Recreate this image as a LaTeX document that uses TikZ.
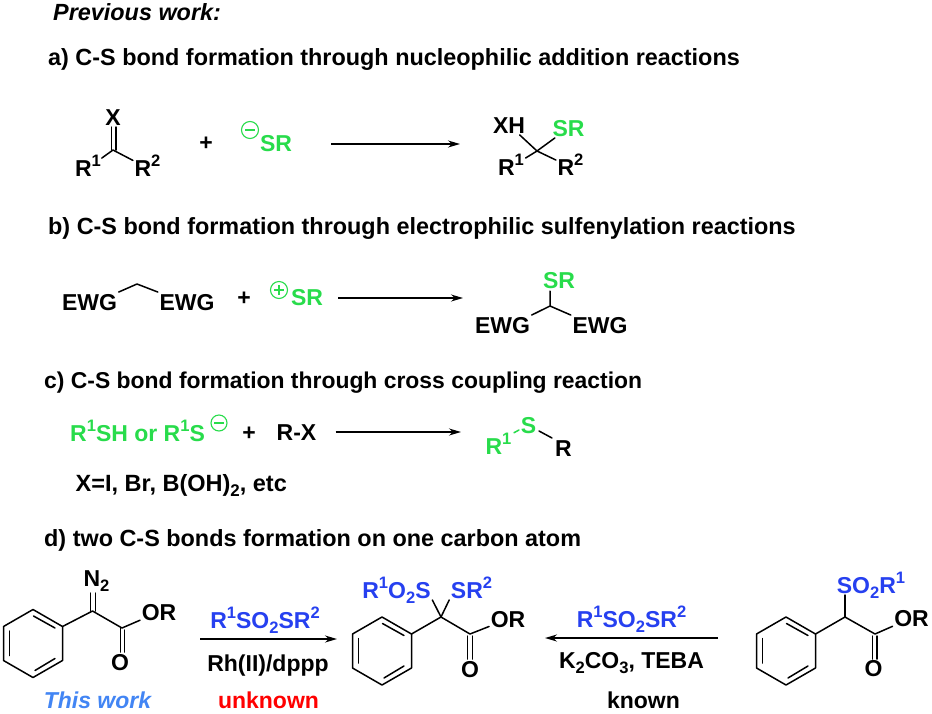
\documentclass[tikz,border=0pt]{standalone}
\usepackage{fontspec}
\setmainfont{Liberation Sans}
\usetikzlibrary{arrows.meta,calc}
\definecolor{grn}{RGB}{40,220,75}
\definecolor{blu}{RGB}{38,64,240}
\definecolor{lblu}{RGB}{66,133,244}
\newcommand\sps[1]{\raisebox{.42em}{\scalebox{.72}{#1}}}
\newcommand\sbs[1]{\raisebox{-.22em}{\scalebox{.72}{#1}}}
\tikzset{
  x=1pt,y=-1pt,
  head/.style={font=\fontsize{23.4}{26}\selectfont\bfseries,anchor=west,inner sep=0pt,text height=16.5pt,text depth=0pt},
  lbl/.style={font=\fontsize{23}{26}\selectfont\bfseries,inner sep=1.5pt,text height=16.5pt,text depth=0pt},
  bond/.style={line width=1.5pt,line cap=round,line join=round},
  rxn/.style={line width=1.5pt,-{Stealth[length=12pt,width=7pt]}},
  chg/.style={circle,draw=grn,line width=1.1pt,inner sep=0pt},
  gs/.style={text=grn},
  bs/.style={text=blu}
}
\newcommand\phring[3]{% name, cx, cy
  \coordinate (#1a) at (#2,#3-34);
  \coordinate (#1b) at (#2+29.5,#3-17);
  \coordinate (#1c) at (#2+29.5,#3+17);
  \coordinate (#1d) at (#2,#3+34);
  \coordinate (#1e) at (#2-29.5,#3+17);
  \coordinate (#1f) at (#2-29.5,#3-17);
  \draw[bond] (#1a)--(#1b)--(#1c)--(#1d)--(#1e)--(#1f)--cycle;
  \draw[bond] (#2+0.5,#3-27.5)--(#2+22,#3-15.5);
  \draw[bond] (#2+2,#3+27)--(#2+22,#3+15);
  \draw[bond] (#2-23.5,#3-12.5)--(#2-23.5,#3+12);
}
\begin{document}
\begin{tikzpicture}
\useasboundingbox (0,0) rectangle (932,713);
\fill[white] (0,0) rectangle (932,713);
% headings
\node[head,font=\fontsize{23.4}{26}\selectfont\bfseries\itshape] (hp) at (53,12) {Previous work:};
\node[head] (ha) at (48,57) {a) C-S bond formation through nucleophilic addition reactions};
\node[head] (hb) at (48,226) {b) C-S bond formation through electrophilic sulfenylation reactions};
\node[head,font=\fontsize{22.9}{26}\selectfont\bfseries] (hc) at (44,380) {c) C-S bond formation through cross coupling reaction};
\node[head] (hd) at (44,538) {d) two C-S bonds formation on one carbon atom};

% panel a
\node[lbl] (aX) at (113,117) {X};
\node[lbl] (aR1) at (88,168) {R\sps{1}};
\node[lbl] (aR2) at (147.5,168) {R\sps{2}};
\coordinate (aC) at (113,150);
\coordinate (aXl) at (111.5,127); \coordinate (aXr) at (116,127);
\coordinate (aCl) at (111.5,150); \coordinate (aCr) at (116,150);
\draw[bond] (aXl)--(aCl) (aXr)--(aCr);
\draw[bond] (aC)--(aR1) (aC)--(aR2);
\node[lbl] (aplus) at (206,142) {+};
\node[chg,minimum size=17pt] (amin) at (250,130) {};
\draw[grn,line width=1.1pt] ($(amin)+(-5,0)$)--($(amin)+(5,0)$);
\node[lbl,gs] (aSR) at (276,143) {SR};
\coordinate (a1) at (331,144); \coordinate (a2) at (460,144);
\draw[rxn] (a1)--(a2);
\node[lbl] (pXH) at (509,125) {XH};
\node[lbl,gs] (pSR) at (568.5,128) {SR};
\node[lbl] (pR1) at (511,167) {R\sps{1}};
\node[lbl] (pR2) at (570.5,167) {R\sps{2}};
\coordinate (pC) at (537,151);
\draw[bond] (pC)--(pXH) (pC)--(pSR) (pC)--(pR1) (pC)--(pR2);

% panel b
\node[lbl] (bE1) at (89.5,302) {EWG};
\node[lbl] (bE2) at (187,302) {EWG};
\coordinate (bC) at (137,284);
\draw[bond] (bE1.north east)--(bC)--(bE2.north west);
\node[lbl] (bplus) at (244,297) {+};
\node[chg,minimum size=17pt] (bpl) at (279,290) {};
\draw[grn,line width=1.1pt] ($(bpl)+(-5,0)$)--($(bpl)+(5,0)$) ($(bpl)+(0,-5)$)--($(bpl)+(0,5)$);
\node[lbl,gs] (bSR) at (307,297) {SR};
\coordinate (b1) at (338,298); \coordinate (b2) at (463,298);
\draw[rxn] (b1)--(b2);
\node[lbl,gs] (qSR) at (559,280) {SR};
\node[lbl] (qE1) at (502.5,325) {EWG};
\node[lbl] (qE2) at (600,325) {EWG};
\coordinate (qC) at (550,306);
\coordinate (qT) at (550,291);
\draw[bond] (qC)--(qT) (qC)--(qE1.north east) (qC)--(qE2.north west);

% panel c
\node[lbl,gs,anchor=west,inner sep=0pt] (cA) at (70,433) {R\sps{1}SH or R\sps{1}S};
\node[chg,minimum size=16pt] (cmin) at (219,423) {};
\draw[grn,line width=1.1pt] ($(cmin)+(-5,0)$)--($(cmin)+(5,0)$);
\node[lbl] (cplus) at (249,432) {+};
\node[lbl] (cRX) at (296.5,432) {R-X};
\coordinate (c1) at (335.5,432); \coordinate (c2) at (461,432);
\draw[rxn] (c1)--(c2);
\node[lbl,gs] (cS) at (528.5,425) {S};
\node[lbl,gs] (cR1) at (498.5,446) {R\sps{1}};
\node[lbl] (cR) at (563.5,448) {R};
\coordinate (cb1) at (514,432.7); \coordinate (cb2) at (519,430);
\coordinate (cb3) at (539,431); \coordinate (cb4) at (552,438);
\draw[bond,grn] (cb1)--(cb2);
\draw[bond] (cb3)--(cb4);
\node[lbl,anchor=west,inner sep=0pt,font=\fontsize{23.5}{26}\selectfont\bfseries] (cX) at (75.5,483) {X=I, Br, B(OH)\sbs{2}, etc};

% panel d left
\phring{L}{33}{643.5}
\coordinate (LC) at (92.5,611);
\coordinate (LE) at (122,628);
\node[lbl] (LN) at (96.5,578) {N\sbs{2}};
\node[lbl] (LOR) at (159,612) {OR};
\node[lbl] (LO) at (120,662) {O};
\draw[bond] (Lb)--(LC)--(LE)--(LOR);
\draw[bond] (90.5,593)--(90.5,611) (95.5,593)--(95.5,611);
\draw[bond] (120.5,628)--(120.5,652) (124.5,630)--(124.5,652);
\coordinate (d1) at (200,639); \coordinate (d2) at (337,639);
\draw[rxn] (d1)--(d2);
\node[lbl,bs] (dT1) at (265,620) {R\sps{1}SO\sbs{2}SR\sps{2}};
\node[lbl] (dB1) at (268,663) {Rh(II)/dppp};
\node[lbl,text=lblu,font=\fontsize{23}{26}\selectfont\bfseries\itshape] (dW) at (97.5,700) {This work};
\node[lbl,text=red] (dU) at (268.5,700) {unknown};

% panel d middle
\phring{M}{382}{651}
\coordinate (MC) at (441,617);
\coordinate (ME) at (470,634);
\node[lbl,bs] (MS1) at (396.5,590) {R\sps{1}O\sbs{2}S};
\node[lbl,bs] (MS2) at (471.5,590) {SR\sps{2}};
\node[lbl] (MOR) at (508,619) {OR};
\node[lbl] (MO) at (470,669) {O};
\draw[bond] (Mb)--(MC)--(ME)--(MOR);
\draw[bond] (MC)--(MS1.south east) (MC)--(MS2.south west);
\draw[bond] (467.5,636)--(467.5,659) (472.5,636)--(472.5,659);
\coordinate (e1) at (718,638); \coordinate (e2) at (545,638);
\draw[rxn] (e1)--(e2);
\node[lbl,bs] (eT) at (631.5,619) {R\sps{1}SO\sbs{2}SR\sps{2}};
\node[lbl] (eB) at (631.5,660) {K\sbs{2}CO\sbs{3}, TEBA};
\node[lbl] (eK) at (643.5,700) {known};

% panel d right
\phring{R}{786}{651}
\coordinate (RC) at (845,617);
\coordinate (RE) at (875,634);
\coordinate (RT) at (845,595);
\node[lbl,bs] (RS) at (871,585) {SO\sbs{2}R\sps{1}};
\node[lbl] (ROR) at (911.5,618) {OR};
\node[lbl] (RO) at (873.5,668) {O};
\draw[bond] (Rb)--(RC)--(RE)--(ROR);
\draw[bond] (RC)--(RT);
\draw[bond] (872.5,636)--(872.5,659) (877,636)--(877,659);
\end{tikzpicture}
\end{document}
